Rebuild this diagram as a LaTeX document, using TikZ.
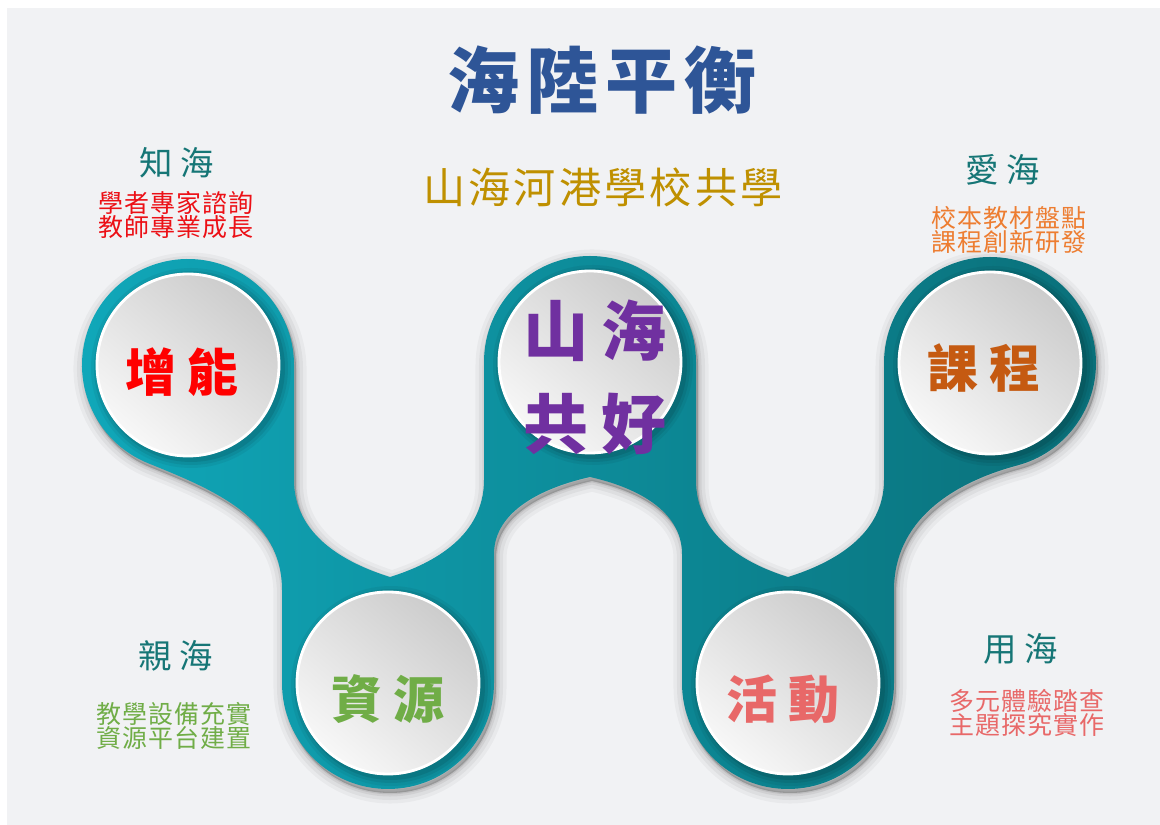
\documentclass[tikz,border=0pt]{standalone}
\usepackage{fontspec}
\newfontfamily\cjk{Noto Sans CJK TC}
\usetikzlibrary{shadings}
\definecolor{bgc}{RGB}{241,242,244}
\definecolor{tealL}{RGB}{16,168,186}
\definecolor{tealR}{RGB}{10,112,122}
\definecolor{titleblue}{RGB}{46,85,151}
\definecolor{gold}{RGB}{191,144,0}
\definecolor{headteal}{RGB}{22,118,118}
\definecolor{redc}{RGB}{236,16,22}
\definecolor{orangec}{RGB}{237,125,49}
\definecolor{brownc}{RGB}{197,90,17}
\definecolor{greenc}{RGB}{112,173,71}
\definecolor{purplec}{RGB}{112,48,160}
\definecolor{salmonc}{RGB}{232,104,104}
\newlength\gapw
\newcommand\gk{\kern\gapw}
\tikzset{
  lab/.style={inner sep=0pt, outer sep=0pt, align=center},
  gap/.style={execute at begin node={\setlength\gapw{#1}}},
  disclabel/.style={lab, gap=6pt, font=\cjk\fontsize{29}{29}\selectfont\bfseries},
  head/.style={lab, gap=4.5pt, text=headteal, font=\cjk\fontsize{19}{19}\selectfont},
  small/.style={lab, gap=0.6pt, font=\cjk\fontsize{14.2}{13.4}\selectfont},
}
\def\band{(294,460) -- (294,345) .. controls (294,290) and (345,262) .. (390,248) .. controls (435,262) and (484,290) .. (484,345) -- (484,463)
  arc[start angle=180,end angle=0,radius=106] -- (696,345) .. controls (696,290) and (743,262) .. (788,248) .. controls (833,262) and (884,290) .. (884,345) -- (884,462)
  arc[start angle=180,end angle=-75,radius=106] to[out=195,in=90] (894,235) -- (894,142)
  arc[start angle=0,end angle=-180,radius=106] -- (682,271) .. controls (682,315) and (635,338) .. (590,348) .. controls (545,338) and (494,315) .. (494,271) -- (494,142)
  arc[start angle=0,end angle=-180,radius=106] -- (282,235) to[out=90,in=-22] (148.3,361.7)
  arc[start angle=248,end angle=0,radius=106] -- cycle}
\begin{document}
\begin{tikzpicture}[x=0.02cm,y=0.02cm]
\useasboundingbox (0,0) rectangle (1160,825);
\fill[white] (0,0) rectangle (1160,825);
\fill[bgc] (7,0) rectangle (1160,817);
% band shadow
\foreach \w/\o in {12/0.035,8/0.045,4/0.06,1.5/0.08}{
  \path[fill=black, draw=black, line width=\w pt, opacity=\o, line join=round, shift={(2,-4)}] \band;
}
% band
\path[left color=tealL, right color=tealR] \band;
% discs
\foreach \n/\cx/\cy in {dA/188/460, dB/388/142, dC/590/463, dD/788/142, dE/990/462}{
  \foreach \r/\o in {100/0.05,97/0.07,94/0.09}{
    \fill[black, opacity=\o] (\cx+3,\cy-3) circle[radius=\r];
  }
  \shade[top color=black!20, bottom color=black!3, shading angle=-40] (\cx,\cy) circle[radius=92];
  \draw[white, line width=1.6pt] (\cx,\cy) circle[radius=91];
  \coordinate (\n) at (\cx,\cy);
}
% title
\node[lab, gap=4pt, text=titleblue, font=\cjk\fontsize{41}{41}\selectfont\bfseries] (title) at (602,745) {海\gk 陸\gk 平\gk 衡};
\node[lab, gap=1.8pt, text=gold, font=\cjk\fontsize{24}{24}\selectfont] (sub) at (603,638) {山\gk 海\gk 河\gk 港\gk 學\gk 校\gk 共\gk 學};
% disc labels
\node[disclabel, text=red] (tA) at (182,453) {增\gk 能};
\node[disclabel, text=greenc] (tB) at (388,126) {資\gk 源};
\node[lab, gap=7pt, text=purplec, font=\cjk\fontsize{37}{53}\selectfont\bfseries] (tC) at (595,448) {山\gk 海\\共\gk 好};
\node[disclabel, text=brownc] (tE) at (984,457) {課\gk 程};
\node[disclabel, text=salmonc] (tD) at (783,126) {活\gk 動};
% side headings
\node[head] (hA) at (177,662) {知\gk 海};
\node[small, text=redc] (sA) at (176,610) {學\gk 者\gk 專\gk 家\gk 諮\gk 詢\\教\gk 師\gk 專\gk 業\gk 成\gk 長};
\node[head] (hE) at (1003,655) {愛\gk 海};
\node[small, text=orangec] (sE) at (1009,595) {校\gk 本\gk 教\gk 材\gk 盤\gk 點\\課\gk 程\gk 創\gk 新\gk 研\gk 發};
\node[head] (hB) at (176,169) {親\gk 海};
\node[small, text=greenc] (sB) at (174,99) {教\gk 學\gk 設\gk 備\gk 充\gk 實\\資\gk 源\gk 平\gk 台\gk 建\gk 置};
\node[head] (hD) at (1021,176) {用\gk 海};
\node[small, text=salmonc] (sD) at (1027,112) {多\gk 元\gk 體\gk 驗\gk 踏\gk 查\\主\gk 題\gk 探\gk 究\gk 實\gk 作};
\end{tikzpicture}
\end{document}
